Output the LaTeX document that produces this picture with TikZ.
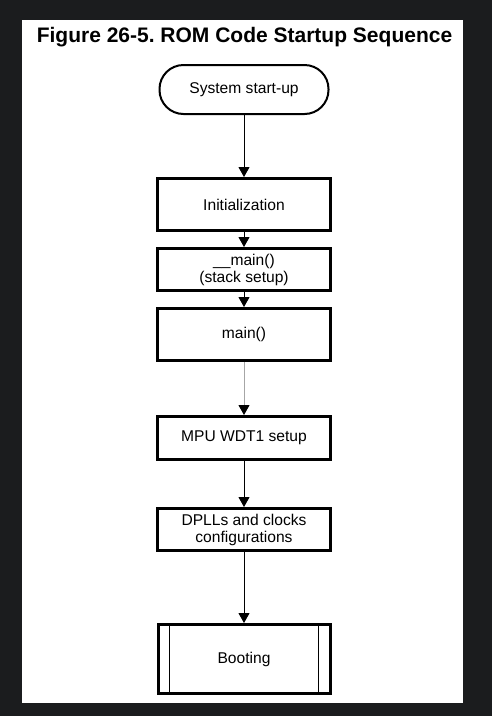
\documentclass[tikz,border=0pt]{standalone}
\usepackage{fontspec}
\setmainfont{Liberation Sans}
\usetikzlibrary{arrows.meta}
\definecolor{bgdark}{HTML}{1B1C1E}
\frenchspacing
\begin{document}
\begin{tikzpicture}[x=1pt,y=-1pt,
  every node/.style={font=\fontsize{15.6}{17}\selectfont, align=center, inner sep=0pt},
  procbox/.style={draw, line width=3pt, minimum width=173pt, fill=white},
  termbox/.style={draw, line width=2pt, rounded corners=24pt, minimum width=169pt, minimum height=49pt},
  flow/.style={line width=1pt, -{Triangle[width=11pt,length=10pt,color=black]}}
]
\fill[bgdark] (0,0) rectangle (492,716);
\fill[white] (22,20) rectangle (463,703);
\useasboundingbox (0,0) rectangle (492,716);

\node[font=\fontsize{21}{24}\bfseries\selectfont] (title) at (244.5,37) {Figure 26-5. ROM Code Startup Sequence};

\node[termbox] (start) at (244,89.5) {System start-up};
\node[procbox, minimum height=52pt] (init) at (244,204.5) {Initialization};
\node[procbox, minimum height=42pt] (smain) at (244,269.5) {\_\_main()\\(stack setup)};
\node[procbox, minimum height=52pt] (main) at (244,334.5) {main()};
\node[procbox, minimum height=43pt] (mpu) at (244,438) {MPU WDT1 setup};
\node[procbox, minimum height=42pt] (dpll) at (244,529.5) {DPLLs and clocks\\configurations};
\node[procbox, minimum height=69pt, minimum width=172pt] (boot) at (244,659) {Booting};
\draw[line width=1.3pt] ([xshift=13pt]boot.north west) -- ([xshift=13pt]boot.south west);
\draw[line width=1.3pt] ([xshift=-13pt]boot.north east) -- ([xshift=-13pt]boot.south east);

\draw[flow] (start) -- (init);
\draw[flow] (init) -- (smain);
\draw[flow] (smain) -- (main);
\draw[flow, draw=black!35] (main) -- (mpu);
\draw[flow] (mpu) -- (dpll);
\draw[flow] (dpll) -- (boot);
\end{tikzpicture}
\end{document}
